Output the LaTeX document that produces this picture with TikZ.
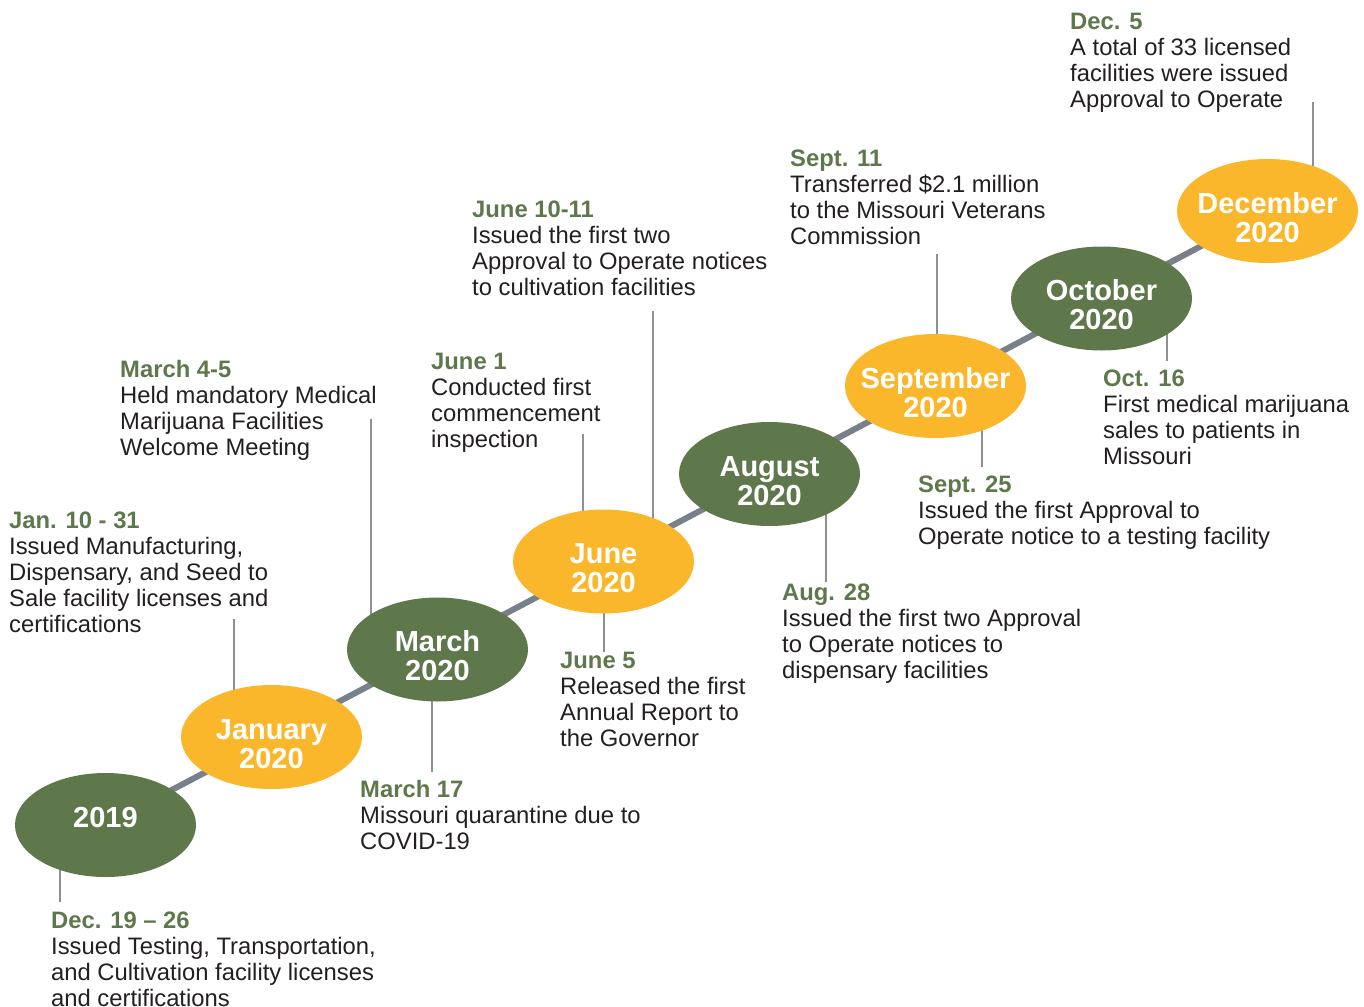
\documentclass[tikz,border=0pt]{standalone}
\usepackage{fontspec}
\setmainfont{Liberation Sans}
\usetikzlibrary{shapes.geometric,backgrounds}
\definecolor{mjgreen}{HTML}{5E784C}
\definecolor{mjyellow}{HTML}{FBB72B}
\definecolor{mjgray}{HTML}{78818A}
\definecolor{mjlead}{HTML}{8C9196}
\definecolor{mjtext}{HTML}{231F20}
\newcommand{\dt}[1]{\textcolor{mjgreen}{\bfseries #1}}
\begin{document}
\begin{tikzpicture}[x=1pt,y=-1pt,
  evt/.style={ellipse, minimum width=181pt, minimum height=104pt, inner sep=0pt},
  evtgreen/.style={evt, fill=mjgreen},
  evtyellow/.style={evt, fill=mjyellow},
  evtlabel/.style={anchor=base, align=center, text=white, inner sep=0pt,
    font=\fontsize{29}{29}\selectfont\bfseries},
  note/.style={anchor=base west, align=left, text=mjtext, inner sep=0pt,
    font=\fontsize{23.8}{26}\selectfont},
  leader/.style={draw=mjlead, line width=1.2pt},
  spine/.style={draw=mjgray, line width=6pt}]
\useasboundingbox (0,0) rectangle (1364,1006);

% events
\node[evtgreen]  (e1) at (105.5,825) {};
\node[evtyellow] (e2) at (271.5,737) {};
\node[evtgreen]  (e3) at (437.5,649.5) {};
\node[evtyellow] (e4) at (603.5,561.5) {};
\node[evtgreen]  (e5) at (769.5,474) {};
\node[evtyellow] (e6) at (935.5,386) {};
\node[evtgreen]  (e7) at (1101.5,298.5) {};
\node[evtyellow] (e8) at (1267.5,211) {};

% labels (base anchor = baseline of last line)
\node[evtlabel] (l1) at ([yshift=-2pt]e1.center) {2019};
\node[evtlabel] (l2) at ([yshift=-31pt]e2.center) {January\\2020};
\node[evtlabel] (l3) at ([yshift=-31pt]e3.center) {March\\2020};
\node[evtlabel] (l4) at ([yshift=-31pt]e4.center) {June\\2020};
\node[evtlabel] (l5) at ([yshift=-31pt]e5.center) {August\\2020};
\node[evtlabel] (l6) at ([yshift=-31pt]e6.center) {September\\2020};
\node[evtlabel] (l7) at ([yshift=-31pt]e7.center) {October\\2020};
\node[evtlabel] (l8) at ([yshift=-31pt]e8.center) {December\\2020};

% notes (positioned at the baseline of their last line)
\node[note] (t1) at (51,1006) {\dt{Dec. 19 – 26}\\Issued Testing, Transportation,\\and Cultivation facility licenses\\and certifications};
\node[note] (t2) at (9,632) {\dt{Jan. 10 - 31}\\Issued Manufacturing,\\Dispensary, and Seed to\\Sale facility licenses and\\certifications};
\node[note] (t3) at (120,455) {\dt{March 4-5}\\Held mandatory Medical\\Marijuana Facilities\\Welcome Meeting};
\node[note] (t4) at (360,849) {\dt{March 17}\\Missouri quarantine due to\\COVID-19};
\node[note] (t5) at (431,447) {\dt{June 1}\\Conducted first\\commencement\\inspection};
\node[note] (t6) at (472,295) {\dt{June 10-11}\\Issued the first two\\Approval to Operate notices\\to cultivation facilities};
\node[note] (t7) at (560,746) {\dt{June 5}\\Released the first\\Annual Report to\\the Governor};
\node[note] (t8) at (782,678) {\dt{Aug. 28}\\Issued the first two Approval\\to Operate notices to\\dispensary facilities};
\node[note] (t9) at (790,244) {\dt{Sept. 11}\\Transferred \$2.1 million\\to the Missouri Veterans\\Commission};
\node[note] (t10) at (918,544) {\dt{Sept. 25}\\Issued the first Approval to\\Operate notice to a testing facility};
\node[note] (t11) at (1103,464) {\dt{Oct. 16}\\First medical marijuana\\sales to patients in\\Missouri};
\node[note] (t12) at (1070,108) {\dt{Dec. 5}\\A total of 33 licensed\\facilities were issued\\Approval to Operate};

% leader ends
\coordinate (p1) at (60,902);
\coordinate (p2) at (234,619);
\coordinate (p3) at (371,419);
\coordinate (p4) at (432,772);
\coordinate (p5) at (583,434);
\coordinate (p6) at (653,311);
\coordinate (p7) at (604,652);
\coordinate (p8) at (826,582);
\coordinate (p9) at (937,254);
\coordinate (p10) at (982,467);
\coordinate (p11) at (1167,361);
\coordinate (p12) at (1313,102);

\begin{pgfonlayer}{background}
  \draw[spine] (e1.center) -- (e8.center);
  \draw[leader] (p1) -- (p1 |- e1.center);
  \draw[leader] (p2) -- (p2 |- e2.center);
  \draw[leader] (p3) -- (p3 |- e3.center);
  \draw[leader] (p4) -- (p4 |- e3.center);
  \draw[leader] (p5) -- (p5 |- e4.center);
  \draw[leader] (p6) -- (p6 |- e4.center);
  \draw[leader] (p7) -- (p7 |- e4.center);
  \draw[leader] (p8) -- (p8 |- e5.center);
  \draw[leader] (p9) -- (p9 |- e6.center);
  \draw[leader] (p10) -- (p10 |- e6.center);
  \draw[leader] (p11) -- (p11 |- e7.center);
  \draw[leader] (p12) -- (p12 |- e8.center);
\end{pgfonlayer}
\end{tikzpicture}
\end{document}
